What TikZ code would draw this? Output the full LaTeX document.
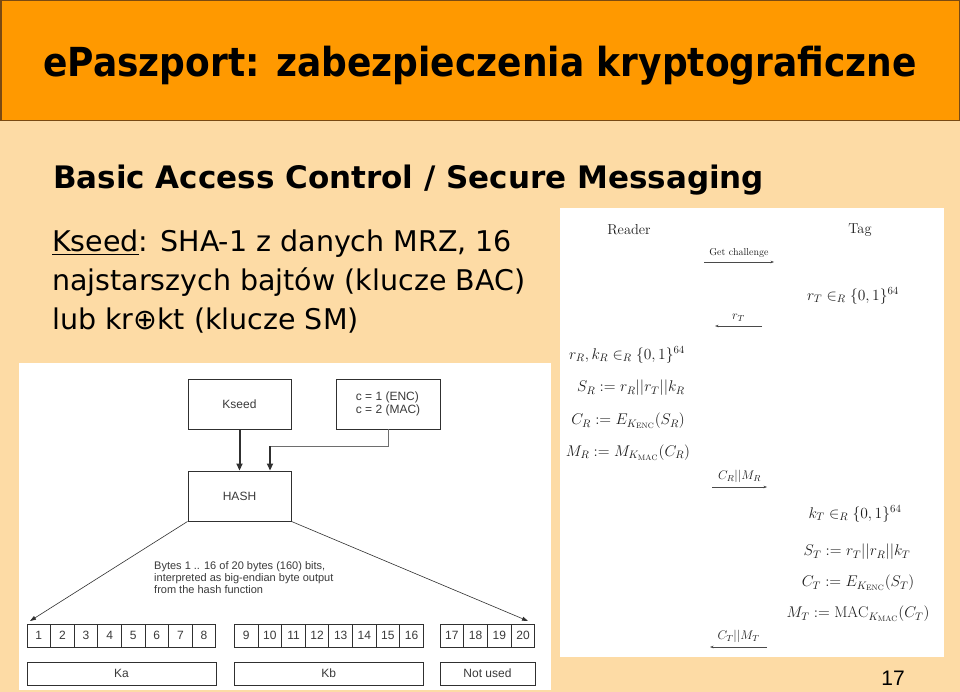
\RequirePackage{fix-cm}
\documentclass[tikz,border=0pt]{standalone}
\usepackage{fontspec}
\usetikzlibrary{arrows.meta}
\newfontfamily\dejavu{DejaVu Sans}
\newfontfamily\dejavucond{DejaVu Sans}[FakeStretch=0.9]
\newfontfamily\arialfont{Liberation Sans}
\begin{document}
\begin{tikzpicture}[x=1pt,y=-1pt, every node/.style={inner sep=0pt},
  figbox/.style={draw=figLine, line width=0.9pt, fill=white, text=figText, font=\arialfont\fontsize{12}{12.5}\selectfont},
  bytecell/.style={figbox, minimum width=23.6, minimum height=23},
  keybox/.style={figbox, minimum height=23},
  feed/.style={line width=2pt, draw=figLine, -{Triangle[length=7pt,width=6pt]}},
  fanline/.style={line width=0.6pt, draw=figLine, -{Triangle[length=6pt,width=4pt]}},
  proto/.style={text=protoText, font=\fontsize{14.4}{17}\selectfont},
  mathline/.style={text=protoText, font=\fontsize{15.5}{18}\selectfont},
  msg/.style={line width=0.6pt, draw=msgGray, -{Stealth[length=3.5pt,width=2.6pt]}},
  msglbl/.style={text=protoText, font=\fontsize{10}{11}\selectfont},
  msgmath/.style={text=protoText, font=\fontsize{12.5}{14}\selectfont}]
  \definecolor{bgPeach}{HTML}{FDDBA5}
  \definecolor{hdrOrange}{HTML}{FF9900}
  \definecolor{hdrBrown}{HTML}{7A4A12}
  \definecolor{figLine}{HTML}{303030}
  \definecolor{figText}{HTML}{3A3A3A}
  \definecolor{protoText}{HTML}{1E1E1E}
  \definecolor{msgGray}{HTML}{4A4A4A}
  \useasboundingbox (0,0) rectangle (960,692);
  \fill[bgPeach] (0,0) rectangle (960,692);
  % header bar
  \draw[fill=hdrOrange, draw=hdrBrown, line width=1.5pt] (0.75,0.75) rectangle (959.25,120.5);
  \node[anchor=base, font=\dejavucond\bfseries\fontsize{40}{48}\selectfont] (title) at (480,77) {ePaszport: zabezpieczenia kryptograficzne};
  \node[anchor=base west, font=\dejavu\bfseries\fontsize{31}{36}\selectfont] (subtitle) at (53,189) {Basic Access Control / Secure Messaging};
  \node[anchor=base west, font=\dejavu\fontsize{28.5}{34}\selectfont] (bodyA) at (52,252) {\underline{Kseed}: SHA-1 z danych MRZ, 16};
  \node[anchor=base west, font=\dejavu\fontsize{28.5}{34}\selectfont] (bodyB) at (52,290.5) {najstarszych bajtów (klucze BAC)};
  \node[anchor=base west, font=\dejavu\fontsize{28.5}{34}\selectfont] (bodyC) at (52,329) {lub kr⊕kt (klucze SM)};
  % key derivation figure
  \fill[white] (19,363) rectangle (551,690);
  \node[figbox, minimum width=103, minimum height=50] (kseed) at (239.5,404) {Kseed};
  \node[figbox, minimum width=104, minimum height=50, align=left] (cbox) at (388,404) {c = 1 (ENC)\\c = 2 (MAC)};
  \node[figbox, minimum width=103, minimum height=50] (hash) at (239.5,496) {HASH};
  \coordinate (cjoin) at (270,446);
  \draw[feed] (kseed) -- (hash);
  \draw[line width=0.6pt, draw=figLine!70] (cbox.south) |- (cjoin);
  \draw[feed] (cjoin) -- (hash.north -| cjoin);
  \foreach \i in {1,...,8}
    \node[bytecell] (b\i) at ({27+23.6*(\i-0.5)},635.5) {\i};
  \foreach \i in {9,...,16}
    \node[bytecell] (b\i) at ({234.5+23.6*(\i-8.5)},635.5) {\i};
  \foreach \i in {17,...,20}
    \node[bytecell] (b\i) at ({440+23.75*(\i-16.5)},635.5) {\i};
  \node[keybox, minimum width=189] (ka) at (121.5,673.5) {Ka};
  \node[keybox, minimum width=188.5] (kb) at (328.75,673.5) {Kb};
  \node[keybox, minimum width=95] (notused) at (487.5,673.5) {Not used};
  \coordinate (firsttip) at (30,621);
  \coordinate (lasttip) at (528,621);
  \draw[fanline] (hash.south west) -- (firsttip);
  \draw[fanline] (hash.south east) -- (lasttip);
  \node[anchor=north west, align=left, text=figText, font=\arialfont\fontsize{11}{12}\selectfont] (bytesnote) at (154,561)
    {Bytes 1 .. 16 of 20 bytes (160) bits,\\interpreted as big-endian byte output\\from the hash function};
  % BAC protocol
  \fill[white] (560,208) rectangle (944,657);
  \node[proto] (reader) at (629,230) {Reader};
  \node[proto] (tag) at (860,230) {Tag};
  \coordinate (gcL) at (704,262);
  \coordinate (gcR) at (774,262);
  \draw[msg] (gcL) -- node[msglbl, above=4pt] {Get challenge} (gcR);
  \node[mathline] (tagrand) at (853,296) {$r_T \in_R \{0,1\}^{64}$};
  \coordinate (rtR) at (762,326);
  \coordinate (rtL) at (715,326);
  \draw[msg] (rtR) -- node[msgmath, above=4pt] {$r_T$} (rtL);
  \node[mathline] (readerrand) at (627,355) {$r_R, k_R \in_R \{0,1\}^{64}$};
  \node[mathline] (sr) at (631,388) {$S_R := r_R||r_T||k_R$};
  \node[mathline] (cr) at (628,421) {$C_R := E_{K_{\mathrm{ENC}}}(S_R)$};
  \node[mathline] (mr) at (628,453) {$M_R := M_{K_{\mathrm{MAC}}}(C_R)$};
  \coordinate (crmrL) at (712,487);
  \coordinate (crmrR) at (767,487);
  \draw[msg] (crmrL) -- node[msgmath, above=4pt] {$C_R||M_R$} (crmrR);
  \node[mathline] (ktrand) at (855,514) {$k_T \in_R \{0,1\}^{64}$};
  \node[mathline] (st) at (857,552) {$S_T := r_T||r_R||k_T$};
  \node[mathline] (ct) at (858,583) {$C_T := E_{K_{\mathrm{ENC}}}(S_T)$};
  \node[mathline] (mt) at (858,614) {$M_T := \mathrm{MAC}_{K_{\mathrm{MAC}}}(C_T)$};
  \coordinate (ctmtR) at (767,647);
  \coordinate (ctmtL) at (710,647);
  \draw[msg] (ctmtR) -- node[msgmath, above=4pt] {$C_T||M_T$} (ctmtL);
  \node[font=\arialfont\fontsize{21}{24}\selectfont] (pagenum) at (893,678) {17};
\end{tikzpicture}
\end{document}
